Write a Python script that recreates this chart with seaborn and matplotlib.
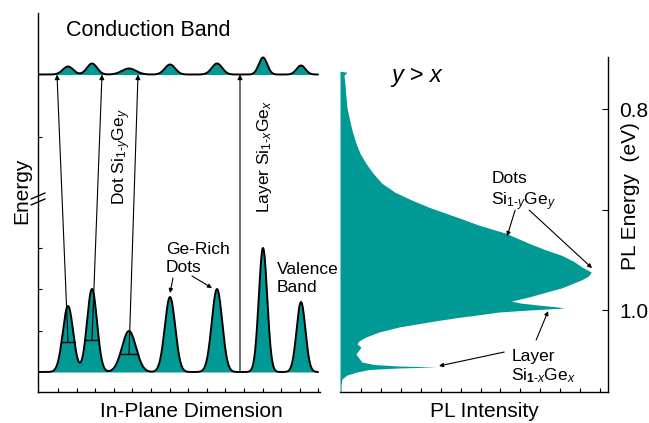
import numpy as np
import pandas as pd
import matplotlib
matplotlib.use("Agg")
import matplotlib.pyplot as plt
import seaborn as sns

# ---- band-edge profile along the growth plane (schematic units) ----
dot_centers = [30, 54, 91, 132, 179, 225, 263]
valence_heights = [66, 83, 41, 75, 83, 124, 70]
conduction_heights = [8, 11, 6, 10, 11, 17, 9]
dot_widths = [5.2, 5.0, 7.0, 5.2, 5.2, 4.2, 4.4]
valence_base = 20
conduction_base = 317.5

# optical transitions: start point (confined level) and end on conduction edge
trans_x0 = [30, 54, 91, 202]
trans_y0 = [50, 52, 38, 20]
trans_x1 = [19, 64, 100, 202]

# ---- photoluminescence spectrum ----
pl_energy = [0.7622, 0.7632, 0.7662, 0.7761, 0.7861, 0.7980, 0.8080, 0.8209,
             0.8338, 0.8438, 0.8537, 0.8637, 0.8736, 0.8826, 0.8905, 0.8975,
             0.9035, 0.9095, 0.9154, 0.9234, 0.9333, 0.9403, 0.9453, 0.9512,
             0.9572, 0.9622, 0.9662, 0.9701, 0.9741, 0.9781, 0.9821, 0.9871,
             0.9910, 0.9930, 0.9950, 0.9970, 0.9980, 0.9990, 1.0005, 1.0020,
             1.0050, 1.0080, 1.0119, 1.0169, 1.0219, 1.0269, 1.0308, 1.0338,
             1.0368, 1.0398, 1.0438, 1.0478, 1.0517, 1.0542, 1.0557, 1.0567,
             1.0577, 1.0592, 1.0617, 1.0647, 1.0687, 1.0746, 1.0816]
pl_intensity = [0.4, 2.6, 1.5, 1.9, 2.2, 2.6, 3.4, 4.5,
                6.0, 7.5, 9.7, 12.4, 15.7, 20.6, 27.0, 33.3,
                39.7, 46.1, 52.1, 62.2, 70.8, 77.5, 83.1, 87.6,
                91.0, 94.4, 93.3, 90.6, 86.9, 83.1, 77.5, 70.8,
                64.4, 67.8, 74.5, 82.0, 84.3, 77.5, 67.8, 59.6,
                51.3, 42.7, 33.3, 22.1, 14.6, 9.7, 7.1, 6.4,
                7.9, 7.1, 6.0, 7.1, 8.2, 12.7, 22.1, 36.3,
                22.1, 10.9, 6.4, 2.6, 0.7, 0.4, 0.4]
energy_ticks = [0.8, 0.9, 1.0]
energy_ticklabels = ["0.8", "", "1.0"]

TEAL = "#009994"

sns.set_theme(style="ticks")
plt.rcParams["font.family"] = ["Liberation Sans", "DejaVu Sans"]
plt.rcParams["mathtext.fontset"] = "custom"
plt.rcParams["mathtext.rm"] = "Liberation Sans"
plt.rcParams["mathtext.it"] = "Liberation Sans:italic"
plt.rcParams["mathtext.bf"] = "Liberation Sans:bold"
for key in ("text.color", "axes.labelcolor", "xtick.color", "ytick.color",
            "axes.edgecolor"):
    plt.rcParams[key] = "black"

fig = plt.figure(figsize=(6.49, 4.23), dpi=100)
W, H = 649, 423

# ================= left panel: band diagram =================
ax = fig.add_axes([38 / W, 1 - 392 / H, (320 - 38) / W, (392 - 13) / H])
ax.set_xlim(0, 282)
ax.set_ylim(0, 379)

x = np.linspace(0, 280, 1400)
def band(base, heights):
    y = np.full_like(x, float(base))
    for c, h, w in zip(dot_centers, heights, dot_widths):
        y += h * np.exp(-(x - c) ** 2 / (2 * w ** 2))
    return y

bands = pd.DataFrame({"x": x,
                      "valence": band(valence_base, valence_heights),
                      "conduction": band(conduction_base, conduction_heights)})
ax.fill_between(bands["x"], valence_base, bands["valence"], color=TEAL, lw=0)
ax.fill_between(bands["x"], conduction_base, bands["conduction"], color=TEAL, lw=0)
sns.lineplot(data=bands, x="x", y="valence", color="black", lw=1.4, ax=ax)
sns.lineplot(data=bands, x="x", y="conduction", color="black", lw=1.4, ax=ax)

# confined levels inside the first three dots
for i in range(3):
    c, h, w = dot_centers[i], valence_heights[i], dot_widths[i]
    lvl = trans_y0[i]
    frac = (lvl - valence_base) / h
    half = w * np.sqrt(2 * np.log(1 / frac))
    ax.plot([c - half, c + half], [lvl, lvl], color="black", lw=1.0)

# transition arrows
for x0, y0, x1 in zip(trans_x0, trans_y0, trans_x1):
    ax.annotate("", xy=(x1, conduction_base), xytext=(x0, y0),
                arrowprops=dict(arrowstyle="-|>", color="black", lw=0.8,
                                mutation_scale=7, shrinkA=0, shrinkB=0))

ax.text(28, 361, "Conduction Band", fontsize=15.5, va="center", ha="left")
ax.text(84, 235, r"Dot Si$_{\text{1-}y}$Ge$_{y}$", fontsize=12.5, rotation=90,
        ha="center", va="center")
ax.text(226, 235, r"Layer Si$_{\text{1-}x}$Ge$_{x}$", fontsize=12.5, rotation=90,
        ha="center", va="center")
ax.text(128, 143, "Ge-Rich", fontsize=12.5, va="center", ha="left")
ax.text(128, 124, "Dots", fontsize=12.5, va="center", ha="left")
ax.annotate("", xy=(132, 99), xytext=(135, 114),
            arrowprops=dict(arrowstyle="-|>", color="black", lw=0.8,
                            mutation_scale=6, shrinkA=0, shrinkB=0))
ax.annotate("", xy=(174, 104), xytext=(154, 116),
            arrowprops=dict(arrowstyle="-|>", color="black", lw=0.8,
                            mutation_scale=6, shrinkA=0, shrinkB=0))
ax.text(239, 123, "Valence", fontsize=12.5, va="center", ha="left")
ax.text(239, 104, "Band", fontsize=12.5, va="center", ha="left")

# axis break on the energy axis
for dy in (0, 6):
    ax.plot([-7, 7], [187 + dy, 193 + dy], color="black", lw=1.0, clip_on=False)

sns.despine(ax=ax)
for s in ("left", "bottom"):
    ax.spines[s].set_linewidth(1.0)
    ax.spines[s].set_color("black")
ax.set_xticks(np.arange(20, 282, 18.6))
ax.set_yticks([61, 103, 144, 255])
ax.tick_params(direction="in", length=3, width=0.8, color="black",
               labelbottom=False, labelleft=False)
ax.set_xlabel("")
ax.set_ylabel("")

# ================= right panel: PL spectrum =================
ax2 = fig.add_axes([340 / W, 1 - 392 / H, (608 - 340) / W, (392 - 57) / H])
ax2.fill_betweenx(pl_energy, 0, pl_intensity, color=TEAL, lw=0)
ax2.set_xlim(0, 100.7)
ax2.set_ylim(1.0816, 0.748)

ax2.text(19.2, 0.7662, "y > x", fontsize=17, style="italic", va="center", ha="left")
ax2.text(56.8, 0.8687, "Dots", fontsize=12.5, va="center", ha="left")
ax2.text(56.8, 0.8925, r"Si$_{\text{1-}y}$Ge$_{y}$", fontsize=12.5, va="center", ha="left")
ax2.text(64.3, 1.0458, "Layer", fontsize=12.5, va="center", ha="left")
ax2.text(64.3, 1.0657, r"Si$_{\mathbf{1}\text{-}x}$Ge$_{x}$", fontsize=12.5,
         va="center", ha="left")
arrow_kw = dict(arrowstyle="-|>", color="black", lw=0.8, mutation_scale=6,
                shrinkA=0, shrinkB=0)
ax2.annotate("", xy=(62.8, 0.9264), xytext=(65.8, 0.9005), arrowprops=arrow_kw)
ax2.annotate("", xy=(94.7, 0.9582), xytext=(71.1, 0.9005), arrowprops=arrow_kw)
ax2.annotate("", xy=(78.2, 1.0010), xytext=(73.7, 1.0298), arrowprops=arrow_kw)
ax2.annotate("", xy=(37.2, 1.0557), xytext=(61.7, 1.0418), arrowprops=arrow_kw)

for s in ("left", "top"):
    ax2.spines[s].set_visible(False)
for s in ("right", "bottom"):
    ax2.spines[s].set_visible(True)
    ax2.spines[s].set_linewidth(1.0)
    ax2.spines[s].set_color("black")
ax2.yaxis.tick_right()
ax2.set_yticks(energy_ticks)
ax2.set_yticklabels(energy_ticklabels)
ax2.set_xticks(np.arange(7.8, 100, 7.5))
ax2.tick_params(axis="x", direction="in", length=3, width=0.8, color="black",
                labelbottom=False)
ax2.tick_params(axis="y", direction="in", length=4, width=0.8, color="black",
                labelsize=15, pad=8)

# axis titles
fig.text(22 / W, 1 - 191 / H, "Energy", rotation=90, fontsize=15,
         ha="center", va="center")
fig.text(191.5 / W, 1 - 411 / H, "In-Plane Dimension", fontsize=15,
         ha="center", va="center")
fig.text(484 / W, 1 - 411 / H, "PL Intensity", fontsize=15,
         ha="center", va="center")
fig.text(630 / W, 1 - 196 / H, "PL Energy  (eV)", rotation=90, fontsize=15,
         ha="center", va="center")

fig.savefig("out.png", dpi=100)
